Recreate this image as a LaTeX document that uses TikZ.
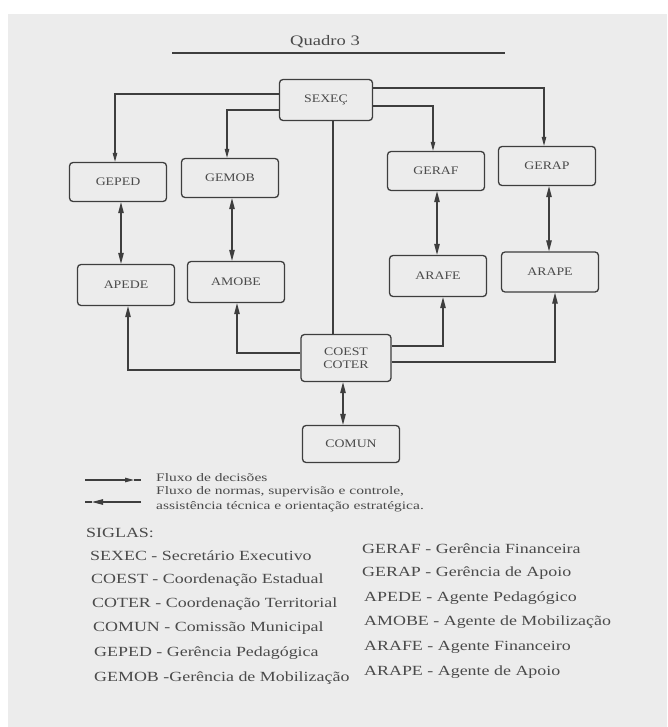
\documentclass[tikz,border=0pt]{standalone}
\usepackage{fontspec}
\setmainfont{Liberation Serif}
\newfontfamily\boxfam[FakeStretch=1.2]{Liberation Serif}
\newfontfamily\legfam[FakeStretch=1.35]{Liberation Serif}
\newfontfamily\sigfam[FakeStretch=1.28]{Liberation Serif}
\usetikzlibrary{arrows.meta}
\definecolor{bgc}{HTML}{ECECEC}
\definecolor{textc}{HTML}{4A4A4A}
\definecolor{linec}{HTML}{3E3E3E}
\tikzset{
  box/.style={draw=linec, line width=1.3pt, rounded corners=3.5pt,
    minimum width=97pt, minimum height=39pt, inner sep=0pt, text=textc,
    align=center, font=\boxfam\fontsize{11.5}{12.5}\selectfont},
  conn/.style={draw=linec, line width=1.1pt},
  dec/.style={conn, -{Triangle[length=9pt,width=4.5pt]}},
  norm/.style={conn, -{Triangle[length=11pt,width=5.5pt]}},
  both/.style={conn, {Triangle[length=11pt,width=5.5pt]}-{Triangle[length=11pt,width=5.5pt]}},
  legtext/.style={anchor=west, inner sep=0pt, text=textc, font=\legfam\fontsize{11.5}{12}\selectfont},
  sigtext/.style={anchor=west, inner sep=0pt, text=textc, font=\sigfam\fontsize{14}{15}\selectfont},
  titletext/.style={inner sep=0pt, text=textc, font=\sigfam\fontsize{14.5}{16}\selectfont},
}
\begin{document}
\begin{tikzpicture}[x=1pt,y=-1pt]
\useasboundingbox (0,0) rectangle (667,727);
\fill[white] (0,0) rectangle (667,727);
\fill[bgc] (8,14) rectangle (667,727);

% title
\node[titletext] (title) at (325,42) {Quadro 3};
\coordinate (ula) at (172,53);
\coordinate (ulb) at (505,53);
\draw[conn, line width=1.2pt] (ula) -- (ulb);

% boxes
\node[box, minimum width=93pt, minimum height=41pt] (sexec) at (326,100) {SEXEÇ};
\node[box] (geped) at (118,182) {GEPED};
\node[box] (gemob) at (230,178) {GEMOB};
\node[box] (geraf) at (436,171) {GERAF};
\node[box] (gerap) at (547,166) {GERAP};
\node[box, minimum height=41pt] (apede) at (126,285) {APEDE};
\node[box, minimum height=41pt] (amobe) at (236,282) {AMOBE};
\node[box, minimum height=41pt] (arafe) at (438,276) {ARAFE};
\node[box, minimum height=40pt] (arape) at (550,272) {ARAPE};
\node[box, minimum width=90pt, minimum height=47pt] (coest) at (346,358) {COEST\\COTER};
\node[box, minimum height=37pt] (comun) at (351,444) {COMUN};

% decisions from SEXEC
\draw[dec] (sexec.west |- 0,94) -| (geped.north -| 115,0);
\draw[dec] (sexec.west |- 0,110) -| (gemob.north -| 227,0);
\draw[dec] (sexec.east |- 0,106) -| (geraf.north -| 433,0);
\draw[dec] (sexec.east |- 0,88) -| (gerap.north -| 544,0);
\draw[conn] (sexec.south -| 333,0) -- (coest.north -| 333,0);

% double arrows
\draw[both] (geped.south -| 121,0) -- (apede.north -| 121,0);
\draw[both] (gemob.south -| 232,0) -- (amobe.north -| 232,0);
\draw[both] (geraf.south -| 437,0) -- (arafe.north -| 437,0);
\draw[both] (gerap.south -| 549,0) -- (arape.north -| 549,0);
\draw[both] (coest.south -| 343,0) -- (comun.north -| 343,0);

% from COEST
\draw[norm] (coest.west |- 0,353) -| (amobe.south -| 237,0);
\draw[norm] (coest.west |- 0,370) -| (apede.south -| 128,0);
\draw[norm] (coest.east |- 0,346) -| (arafe.south -| 443,0);
\draw[norm] (coest.east |- 0,362) -| (arape.south -| 555,0);

% legend
\coordinate (l1a) at (85,480);
\coordinate (l1m) at (134,480);
\coordinate (l1b) at (141,480);
\draw[dec] (l1a) -- (l1m);
\draw[conn] (l1m) -- (l1b);
\coordinate (l2a) at (141,502);
\coordinate (l2m) at (92,502);
\coordinate (l2b) at (85,502);
\draw[norm] (l2a) -- (l2m);
\draw[conn] (l2m) -- (l2b);
\node[legtext] (lg1) at (156,478) {Fluxo de decisões};
\node[legtext] (lg2) at (156,492) {Fluxo de normas, supervisão e controle,};
\node[legtext] (lg3) at (156,507) {assistência técnica e orientação estratégica.};

% siglas
\node[sigtext] (sig) at (86,533) {SIGLAS:};
\node[sigtext] (s1) at (90,556) {SEXEC - Secretário Executivo};
\node[sigtext] (s2) at (91,580) {COEST - Coordenação Estadual};
\node[sigtext] (s3) at (92,604) {COTER - Coordenação Territorial};
\node[sigtext] (s4) at (93,628) {COMUN - Comissão Municipal};
\node[sigtext] (s5) at (94,653) {GEPED - Gerência Pedagógica};
\node[sigtext] (s6) at (94,678) {GEMOB -Gerência de Mobilização};
\node[sigtext] (r1) at (362,549) {GERAF - Gerência Financeira};
\node[sigtext] (r2) at (362,573) {GERAP - Gerência de Apoio};
\node[sigtext] (r3) at (364,598) {APEDE - Agente Pedagógico};
\node[sigtext] (r4) at (364,622) {AMOBE - Agente de Mobilização};
\node[sigtext] (r5) at (364,647) {ARAFE - Agente Financeiro};
\node[sigtext] (r6) at (364,672) {ARAPE - Agente de Apoio};
\end{tikzpicture}
\end{document}
